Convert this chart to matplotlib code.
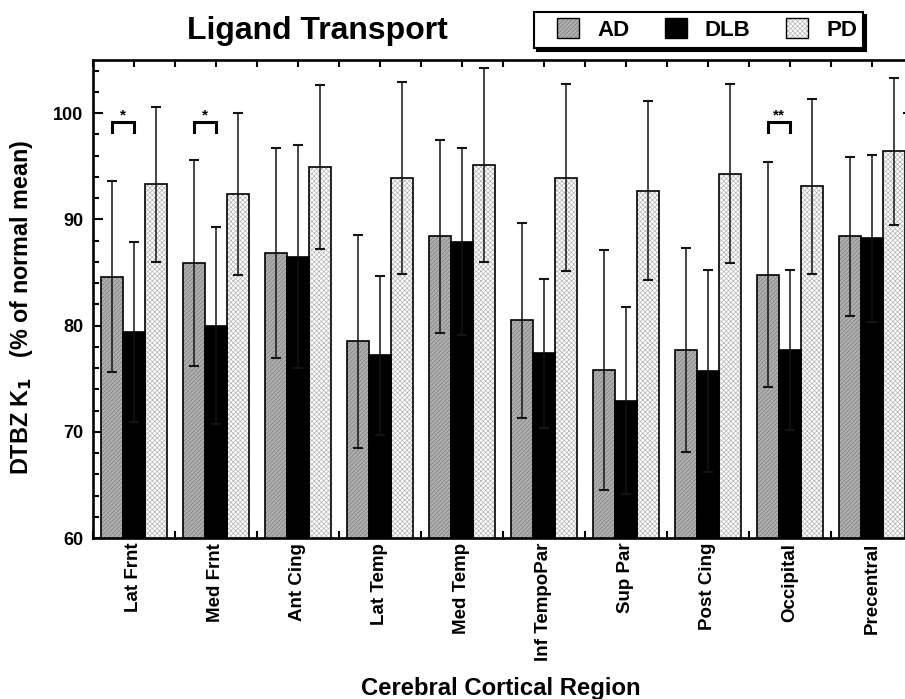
import matplotlib
matplotlib.use("Agg")
import matplotlib.pyplot as plt
import numpy as np
from matplotlib.patches import Patch, Rectangle
from matplotlib.ticker import MultipleLocator, FixedLocator

plt.rcParams['font.family'] = ['Liberation Sans', 'DejaVu Sans']
plt.rcParams['font.weight'] = 'bold'
plt.rcParams['hatch.linewidth'] = 0.5

# ---- data ----
regions = ["Lat Frnt", "Med Frnt", "Ant Cing", "Lat Temp", "Med Temp",
           "Inf TempoPar", "Sup Par", "Post Cing", "Occipital", "Precentral"]
series_names = ["AD", "DLB", "PD"]
ad_mean = [84.6, 85.9, 86.8, 78.5, 88.4, 80.5, 75.8, 77.7, 84.8, 88.4]
ad_sd = [9.0, 9.7, 9.9, 10.0, 9.1, 9.2, 11.3, 9.6, 10.6, 7.5]
dlb_mean = [79.4, 80.0, 86.5, 77.2, 87.9, 77.4, 72.9, 75.7, 77.7, 88.2]
dlb_sd = [8.5, 9.3, 10.5, 7.5, 8.8, 7.0, 8.8, 9.5, 7.5, 7.9]
pd_mean = [93.3, 92.4, 94.9, 93.9, 95.1, 93.9, 92.7, 94.3, 93.1, 96.4]
pd_sd = [7.3, 7.6, 7.7, 9.0, 9.1, 8.8, 8.4, 8.4, 8.2, 6.9]
sig_groups = [0, 1, 8]
sig_labels = ["*", "*", "**"]
sig_level = 99.2

yticks = [60, 70, 80, 90, 100]

# ---- figure ----
W, H = 905, 699
fig = plt.figure(figsize=(W / 100, H / 100), dpi=100)
ax = fig.add_axes([93/W, (H-538)/H, 820/W, 478/H])

x = np.arange(len(regions))
w = 0.27
styles = [
    dict(face='#b0b0b0', hatch='////////', hcol='#7a7a7a'),
    dict(face='black', hatch=None, hcol='black'),
    dict(face='white', hatch='xxxxxxx', hcol='#b4b4b4'),
]
means = [ad_mean, dlb_mean, pd_mean]
sds = [ad_sd, dlb_sd, pd_sd]
handles = []
for i, (m, s, st) in enumerate(zip(means, sds, styles)):
    xi = x + (i - 1) * w
    ax.bar(xi, m, w, bottom=0, color=st['face'], hatch=st['hatch'],
           edgecolor=st['hcol'], linewidth=0, zorder=2)
    ax.bar(xi, m, w, bottom=0, fill=False, edgecolor='black',
           linewidth=1.2, zorder=3)
    ax.errorbar(xi, m, yerr=s, fmt='none', ecolor='#141414', elinewidth=1.1,
                capsize=3.5, capthick=1.5, zorder=4)
    p1 = Patch(facecolor=st['face'], hatch=st['hatch'], edgecolor=st['hcol'],
               linewidth=0)
    p2 = Patch(fill=False, edgecolor='black', linewidth=1.0)
    handles.append((p1, p2))

# significance brackets
for g, lab in zip(sig_groups, sig_labels):
    x0 = g - w
    x1 = g
    ax.plot([x0, x0, x1, x1], [sig_level - 1.0, sig_level, sig_level, sig_level - 1.0],
            color='black', linewidth=2.2, solid_joinstyle='miter', zorder=5)
    ax.text((x0 + x1) / 2, sig_level - 0.1, lab, ha='center', va='bottom',
            fontsize=11, fontweight='bold', zorder=5)

ax.set_xlim(-0.5, len(regions) - 0.5)
ax.set_ylim(60, 105)
ax.set_yticks(yticks)
ax.yaxis.set_minor_locator(MultipleLocator(2))
ax.set_xticks(x)
ax.set_xticklabels(regions, rotation=90, fontsize=13.5, fontweight='bold')
ax.xaxis.set_minor_locator(FixedLocator(np.arange(len(regions) + 1) - 0.5))
for lab in ax.get_yticklabels():
    lab.set_fontsize(13)
    lab.set_fontweight('bold')

ax.tick_params(axis='y', which='major', direction='in', length=7, width=1.5,
               left=True, right=True, pad=7)
ax.tick_params(axis='y', which='minor', direction='in', length=4.2, width=1.5,
               left=True, right=True)
ax.tick_params(axis='x', which='both', direction='in', length=5, width=1.5,
               top=True, bottom=True, pad=3.5)
for sp in ax.spines.values():
    sp.set_linewidth(1.9)

fig.text(317/W, 1 - 39/H, "Ligand Transport", ha='center', va='baseline',
         fontsize=23, fontweight='bold')
fig.text(22/W, 1 - 307/H, r"DTBZ K$_\mathbf{1}$   (% of normal mean)",
         rotation=90, ha='center', va='center', fontsize=16.8, fontweight='bold')
fig.text(501/W, 4/H, "Cerebral Cortical Region", ha='center',
         va='baseline', fontsize=17.2, fontweight='bold')

# legend box with drop shadow
bx0, bx1, by0, by1 = 534, 863, 12, 48
fig.patches.append(Rectangle((bx0/W + 3/W, 1 - by1/H - 3/H), (bx1-bx0)/W, (by1-by0)/H,
                             transform=fig.transFigure, facecolor='black',
                             edgecolor='black', linewidth=1.5, zorder=1))
fig.patches.append(Rectangle((bx0/W, 1 - by1/H), (bx1-bx0)/W, (by1-by0)/H,
                             transform=fig.transFigure, facecolor='white',
                             edgecolor='black', linewidth=1.5, zorder=2))
leg = fig.legend(handles, series_names, loc='center',
                 bbox_to_anchor=(707/W, 1 - 29.5/H), ncol=3,
                 prop=dict(weight='bold', size=16),
                 handlelength=1.0, handleheight=1.0, handletextpad=0.8,
                 columnspacing=1.6, borderpad=0.3, frameon=False)
leg.set_zorder(5)

fig.savefig("out.png", dpi=100)
